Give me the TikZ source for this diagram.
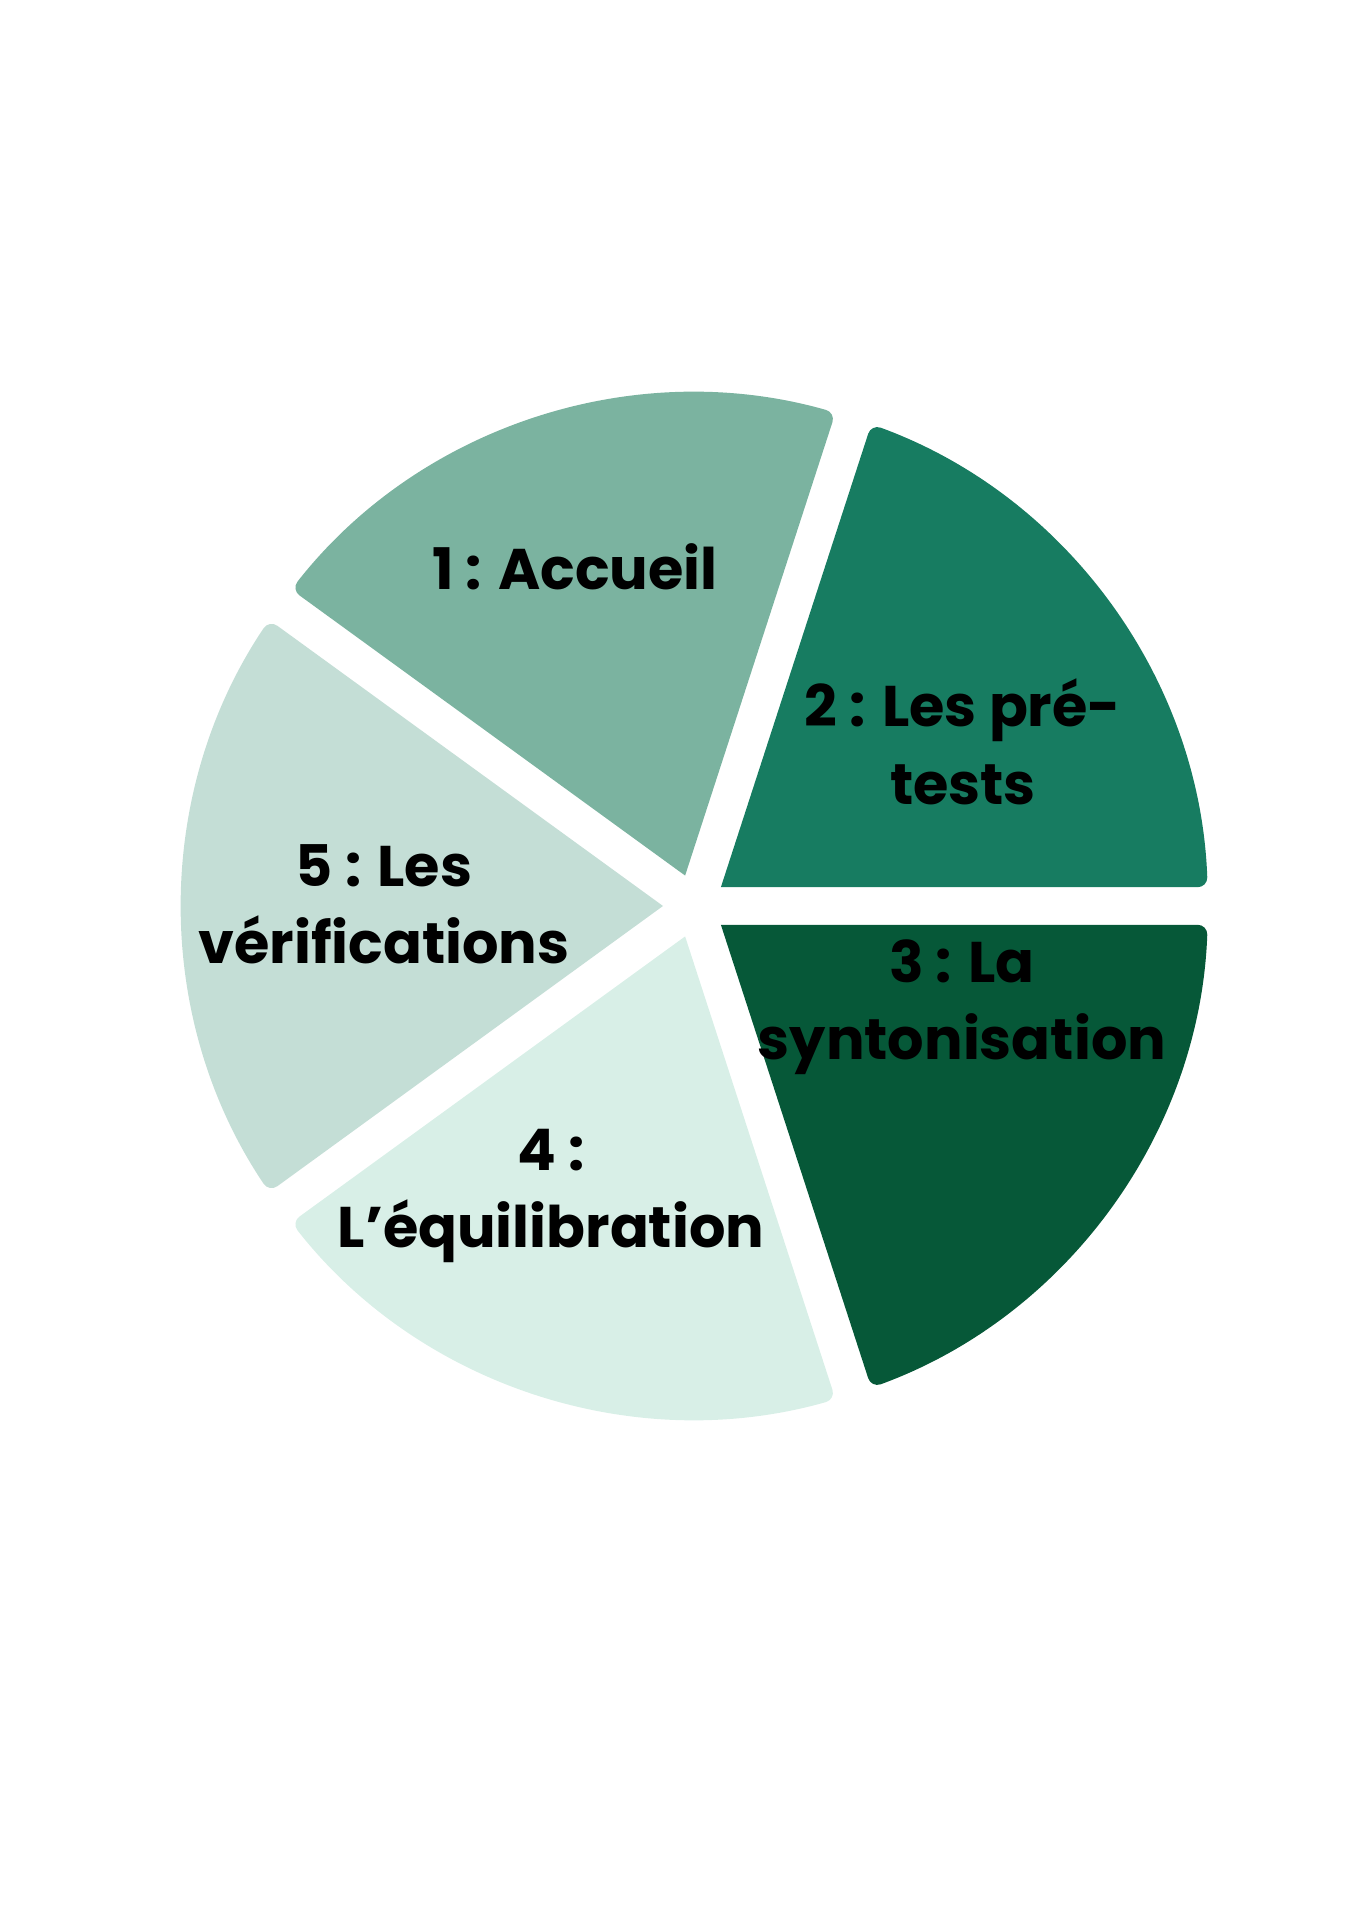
\documentclass[tikz,border=0pt]{standalone}
\usepackage{fontspec}
\setmainfont{Poppins}
\usepackage{tikz}
\usetikzlibrary{positioning}

\definecolor{cAccueil}{HTML}{7BB3A0}
\definecolor{cPretests}{HTML}{177C61}
\definecolor{cSynto}{HTML}{065838}
\definecolor{cEquil}{HTML}{D8EFE7}
\definecolor{cVerif}{HTML}{C4DED6}

\begin{document}
\begin{tikzpicture}[x=0.01cm, y=0.01cm,
    slicetext/.style={font=\fontsize{16.3}{22}\selectfont\bfseries, align=center, text=black}]

    \useasboundingbox (0,0) rectangle (1357,1920);

    % Centre of the pie
    \coordinate (c) at (695,1014);

    % Slices
    \fill[cPretests] ([shift={(36:32)}]c) [rounded corners=0.1cm] -- ([shift={(2.1:513)}]c)
        arc[start angle=2.1, end angle=69.9, radius=513] -- ([shift={(36:32)}]c);
    \fill[cAccueil] ([shift={(108:32)}]c) [rounded corners=0.1cm] -- ([shift={(74.1:513)}]c)
        arc[start angle=74.1, end angle=141.9, radius=513] -- ([shift={(108:32)}]c);
    \fill[cVerif] ([shift={(180:32)}]c) [rounded corners=0.1cm] -- ([shift={(146.1:513)}]c)
        arc[start angle=146.1, end angle=213.9, radius=513] -- ([shift={(180:32)}]c);
    \fill[cEquil] ([shift={(252:32)}]c) [rounded corners=0.1cm] -- ([shift={(218.1:513)}]c)
        arc[start angle=218.1, end angle=285.9, radius=513] -- ([shift={(252:32)}]c);
    \fill[cSynto] ([shift={(324:32)}]c) [rounded corners=0.1cm] -- ([shift={(290.1:513)}]c)
        arc[start angle=290.1, end angle=357.9, radius=513] -- ([shift={(324:32)}]c);

    % Labels
    \node (accueil) [slicetext] at (575,1353) {1 : Accueil};
    \node (pretests) [slicetext] at (963,1178) {2 : Les pré-\\tests};
    \node (syntonisation) [slicetext] at (962,913) {3 : La\\syntonisation};
    \node (equilibration) [slicetext] at (551,724) {4 :\\L’équilibration};
    \node (verifications) [slicetext] at (384,1016) {5 : Les\\vérifications};

\end{tikzpicture}
\end{document}
